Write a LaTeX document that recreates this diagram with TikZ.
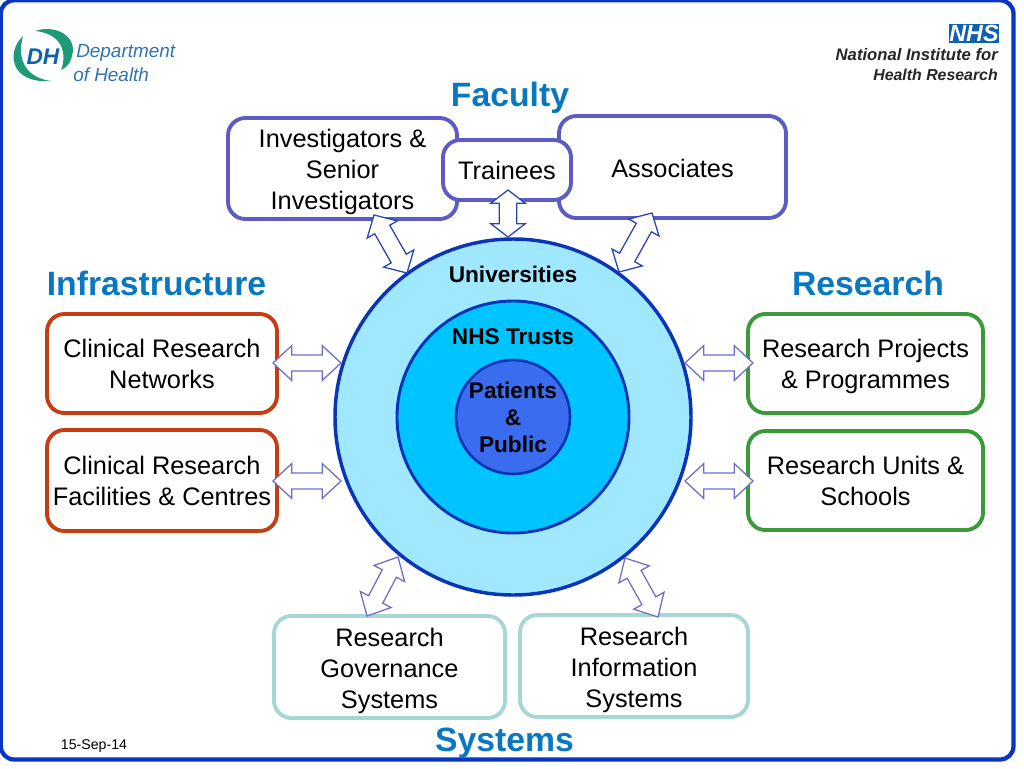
\documentclass[tikz,border=0pt]{standalone}
\usepackage{fontspec}
\setmainfont{Liberation Sans}
\usetikzlibrary{calc}
\definecolor{frameblue}{HTML}{0A35C4}
\definecolor{facultyc}{HTML}{5C5CC4}
\definecolor{infrac}{HTML}{C83C14}
\definecolor{researchc}{HTML}{3A9A3A}
\definecolor{systemsc}{HTML}{A6D6D6}
\definecolor{titlec}{HTML}{0A78C0}
\definecolor{arrowa}{HTML}{2A45B0}
\definecolor{arrowb}{HTML}{6E6EC8}
\definecolor{ringa}{HTML}{A0E8FF}
\definecolor{ringb}{HTML}{00C4FF}
\definecolor{ringc}{HTML}{3A6CF0}
\definecolor{ringline}{HTML}{0A35B8}
\definecolor{dhgreen}{HTML}{1F9A78}
\definecolor{dhblue}{HTML}{2F74B0}
\definecolor{nhsblue}{HTML}{1060B0}
\tikzset{
  box/.style={draw,line width=2.9pt,rounded corners=13pt,fill=white,inner sep=0pt},
  boxtext/.style={font=\fontsize{19}{23.25}\selectfont,align=center,text=black,inner sep=0pt},
  ring/.style={circle,draw=ringline,inner sep=0pt},
  blabel/.style={font=\bfseries\fontsize{17}{20.25}\selectfont,align=center,text=black},
  grouptitle/.style={font=\bfseries\fontsize{25.3}{30}\selectfont,text=titlec},
  dbl/.style={line width=0.95pt,fill=white,line join=miter},
}
% #1 style, #2 tip A, #3 tip B, #4 head length, #5 head half width, #6 shaft half width
\newcommand{\dblarrow}[6]{%
  \draw[dbl,#1] let \p1=(#2),\p2=(#3),\n1={atan2(\y2-\y1,\x2-\x1)} in
  (#2)
  -- ($(#2)+(\n1:#4)+(\n1+90:#5)$)
  -- ($(#2)+(\n1:#4)+(\n1+90:#6)$)
  -- ($(#3)-(\n1:#4)+(\n1+90:#6)$)
  -- ($(#3)-(\n1:#4)+(\n1+90:#5)$)
  -- (#3)
  -- ($(#3)-(\n1:#4)-(\n1+90:#5)$)
  -- ($(#3)-(\n1:#4)-(\n1+90:#6)$)
  -- ($(#2)+(\n1:#4)-(\n1+90:#6)$)
  -- ($(#2)+(\n1:#4)-(\n1+90:#5)$)
  -- cycle;}
% name, colour, x0,y0,x1,y1, text y offset in px, text
\newcommand{\boxnode}[8]{%
  \pgfmathsetmacro{\bw}{(#5-#3)*0.75}\pgfmathsetmacro{\bh}{(#6-#4)*0.75}
  \node[box,draw=#2,minimum width=\bw pt,minimum height=\bh pt] (#1) at ({(#3+#5)/2},{(#4+#6)/2}) {};
  \node[boxtext] (#1text) at ({(#3+#5)/2},{(#4+#6)/2+#7}) {#8};}
\begin{document}
\begin{tikzpicture}[x=0.75pt,y=-0.75pt]
\useasboundingbox (0,0) rectangle (1024,768);
\fill[white] (0,0) rectangle (1024,768);
\draw[frameblue,line width=3.2pt,rounded corners=10pt] (0.8,0.3) rectangle (1013.5,759.5);

% DH logo
\fill[dhgreen] (23,36) .. controls (6,52) and (10,84) .. (51,81)
  .. controls (28,78) and (16,62) .. (23,36) -- cycle;
\fill[dhgreen] (35,31) .. controls (55,24) and (78,36) .. (72,56)
  .. controls (71,63) and (66,68) .. (61,70)
  .. controls (66,58) and (66,34) .. (35,31) -- cycle;
\node[font=\bfseries\itshape\fontsize{17}{17}\selectfont,text=nhsblue] (dh) at (43,57) {DH};
\node[font=\itshape\fontsize{14.2}{15}\selectfont,text=dhblue,anchor=west,inner sep=0pt] (dept) at (76,52.5) {Department};
\node[font=\itshape\fontsize{14.2}{15}\selectfont,text=dhblue,anchor=west,inner sep=0pt] (ofh) at (73,75) {of Health};

% NIHR logo
\node[fill=nhsblue,text=white,font=\bfseries\itshape\fontsize{17.5}{17.5}\selectfont,minimum width=37.5pt,minimum height=14.5pt,inner sep=0pt] (nhs) at (974,33.5) {NHS};
\node[font=\bfseries\itshape\fontsize{12.5}{14}\selectfont,text=black!85,anchor=east,inner sep=0pt] (nihra) at (998,55) {National Institute for};
\node[font=\bfseries\itshape\fontsize{11.9}{14}\selectfont,text=black!85,anchor=east,inner sep=0pt] (nihrb) at (998,75) {Health Research};

% Titles
\node[grouptitle] (tfaculty) at (510,98) {Faculty};
\node[grouptitle] (tinfra) at (156.5,283) {Infrastructure};
\node[grouptitle] (tresearch) at (868,283) {Research};
\node[grouptitle] (tsystems) at (504.5,743) {Systems};

% Circles
\node[ring,fill=ringa,line width=2.6pt,minimum size=267pt] (outer) at (513,417) {};
\node[ring,fill=ringb,line width=2.2pt,minimum size=174pt] (middle) at (513,417) {};
\node[ring,fill=ringc,line width=2pt,minimum size=85.5pt] (inner) at (513,417) {};
\node[blabel] (luni) at (513,274) {Universities};
\node[blabel] (lnhs) at (513,337) {NHS Trusts};
\node[blabel] (lpat) at (513,417) {Patients\\\&\\Public};

% Boxes
\boxnode{inv}{facultyc}{228}{118}{457}{219}{3}{Investigators \&\\Senior\\Investigators}
\boxnode{assoc}{facultyc}{559}{116}{786}{218}{1}{Associates}
\boxnode{train}{facultyc}{443}{140}{571}{200}{0}{Trainees}
\boxnode{crn}{infrac}{47}{314}{277}{413}{0.5}{Clinical Research\\Networks}
\boxnode{crf}{infrac}{47}{430}{277}{531}{0.5}{Clinical Research\\Facilities \& Centres}
\boxnode{rpp}{researchc}{748}{314}{983}{413}{3}{Research Projects\\\& Programmes}
\boxnode{rus}{researchc}{748}{431}{983}{530}{0.5}{Research Units \&\\Schools}
\boxnode{rgs}{systemsc}{274}{616}{505}{718}{4}{Research\\Governance\\Systems}
\boxnode{ris}{systemsc}{520}{615}{748}{717}{4}{Research\\Information\\Systems}

% Arrow end points
\coordinate (a1) at (508,190); \coordinate (b1) at (508,237);
\coordinate (a2) at (374,215); \coordinate (b2) at (407,273);
\coordinate (a3) at (652,213); \coordinate (b3) at (619,272);
\coordinate (a4) at (273,363); \coordinate (b4) at (341,363);
\coordinate (a5) at (273,481); \coordinate (b5) at (341,481);
\coordinate (a6) at (685,363); \coordinate (b6) at (753,363);
\coordinate (a7) at (685,481); \coordinate (b7) at (753,481);
\coordinate (a8) at (398,557); \coordinate (b8) at (367,616);
\coordinate (a9) at (625,558); \coordinate (b9) at (658,617);

\dblarrow{draw=arrowa}{a1}{b1}{10pt}{13pt}{6.5pt}
\dblarrow{draw=arrowa}{a2}{b2}{12.5pt}{13pt}{6.5pt}
\dblarrow{draw=arrowa}{a3}{b3}{12.5pt}{13pt}{6.5pt}
\dblarrow{draw=arrowb}{a4}{b4}{14pt}{13pt}{6pt}
\dblarrow{draw=arrowb}{a5}{b5}{14pt}{13pt}{6pt}
\dblarrow{draw=arrowb}{a6}{b6}{14pt}{13pt}{6pt}
\dblarrow{draw=arrowb}{a7}{b7}{14pt}{13pt}{6pt}
\dblarrow{draw=arrowb}{a8}{b8}{14pt}{13pt}{6pt}
\dblarrow{draw=arrowb}{a9}{b9}{14pt}{13pt}{6pt}

\node[font=\fontsize{10.6}{12}\selectfont,text=black] (date) at (94,746) {15-Sep-14};
\end{tikzpicture}
\end{document}
